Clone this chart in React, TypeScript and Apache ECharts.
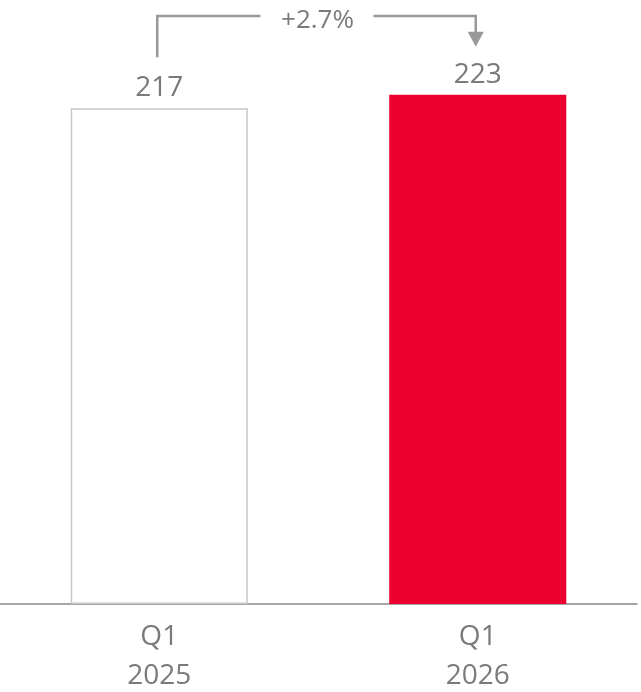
import React, { useEffect, useRef } from "react";
import * as echarts from "echarts";

const categories = ["Q1\n2025", "Q1\n2026"];
const values = [217, 223];
const changeLabel = "+2.7%";

export default function App() {
  const ref = useRef<HTMLDivElement>(null);
  useEffect(() => {
    const chart = echarts.init(ref.current!, null, { renderer: "svg" });
    const font = "'Open Sans', 'Noto Sans', sans-serif";
    const gray = "#7a7a7a";
    chart.setOption({
      animation: false,
      grid: { left: 0, right: 4, top: 33, bottom: 86 },
      xAxis: {
        type: "category",
        data: categories,
        axisLine: { lineStyle: { color: "#888", width: 1.5 } },
        axisTick: { show: false },
        axisLabel: { color: gray, fontSize: 28, lineHeight: 39, margin: 10, fontFamily: font },
      },
      yAxis: { type: "value", min: 0, max: 250, show: false, splitLine: { show: false } },
      series: [
        {
          type: "bar",
          barWidth: "55.6%",
          data: [
            { value: values[0], itemStyle: { color: "#ffffff", borderColor: "#c8c8c8", borderWidth: 1.5 } },
            { value: values[1], itemStyle: { color: "#EB0030" } },
          ],
          label: { show: true, position: "top", distance: 9, color: gray, fontSize: 28, fontFamily: font },
        },
      ],
    });
    const p0 = chart.convertToPixel({ seriesIndex: 0 }, [0, values[0]]) as number[];
    const p1 = chart.convertToPixel({ seriesIndex: 0 }, [1, values[1]]) as number[];
    const x0 = p0[0] - 2;
    const x1 = p1[0] - 2;
    const yTop = 16;
    const midX = (x0 + x1) / 2;
    const stroke = { stroke: "#999", lineWidth: 2.5, fill: "none" };
    chart.setOption({
      graphic: [
        { type: "polyline", shape: { points: [[x0, p0[1] - 51], [x0, yTop], [midX - 56, yTop]] }, style: stroke },
        { type: "polyline", shape: { points: [[midX + 57, yTop], [x1, yTop], [x1, p1[1] - 62]] }, style: stroke },
        { type: "polygon", shape: { points: [[x1 - 8, p1[1] - 63], [x1 + 8, p1[1] - 63], [x1, p1[1] - 48]] }, style: { fill: "#999" } },
        { type: "text", x: midX + 1, y: 18, style: { text: changeLabel, fill: gray, fontSize: 26, fontFamily: font, align: "center", verticalAlign: "middle" } },
      ],
    });
    return () => chart.dispose();
  }, []);
  return <div ref={ref} style={{ position: "fixed", left: 0, top: 0, width: 641, height: 692 }} />;
}
